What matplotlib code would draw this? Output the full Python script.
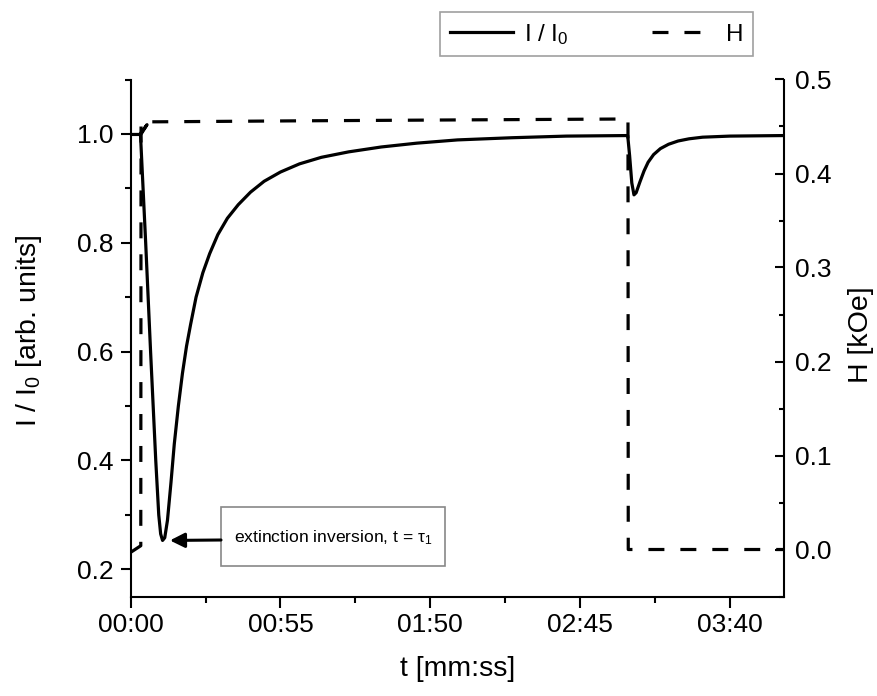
import matplotlib
matplotlib.use('Agg')
import matplotlib.pyplot as plt
from matplotlib.ticker import FuncFormatter, MultipleLocator
from matplotlib.patches import Rectangle

plt.rcParams['font.family'] = ['Liberation Sans', 'DejaVu Sans']
plt.rcParams['mathtext.fontset'] = 'custom'
plt.rcParams['mathtext.rm'] = 'Liberation Sans'
plt.rcParams['mathtext.it'] = 'Liberation Sans:italic'
plt.rcParams['mathtext.bf'] = 'Liberation Sans:bold'

# ---- data (time in seconds) ----
t_I = [0, 3.3, 6.0, 3.6, 5.5, 7.3, 9.2, 10.3, 11.0, 11.7, 12.5, 13.5, 14.8,
       16.0, 17.5, 19.0, 20.5, 22, 24, 26.5, 29, 32, 35.5, 39.5, 44, 49, 55,
       62, 70, 80, 92, 105, 120, 140, 160, 182.5, 183.2, 184.0, 184.8,
       185.6, 187, 188.5, 190, 192, 194.5, 197.5, 201, 205, 210, 220, 240]
I_vals = [0.999, 0.999, 1.017, 0.998, 0.80, 0.60, 0.40, 0.30, 0.265, 0.253,
          0.258, 0.29, 0.36, 0.43, 0.50, 0.56, 0.61, 0.65, 0.70, 0.745,
          0.78, 0.815, 0.845, 0.87, 0.893, 0.913, 0.93, 0.945, 0.957, 0.967,
          0.976, 0.983, 0.989, 0.993, 0.996, 0.997, 0.96, 0.91, 0.888, 0.892,
          0.912, 0.932, 0.948, 0.962, 0.973, 0.981, 0.987, 0.991, 0.994,
          0.996, 0.997]

t_H = [0, 3.7, 3.8, 10, 60, 120, 182.6, 182.7, 240]
H_vals = [-0.003, 0.004, 0.455, 0.455, 0.456, 0.457, 0.458, 0.0, 0.0]

x_major = [0, 55, 110, 165, 220]
left_ylim = (0.15, 1.1)
right_ylim = (-0.05, 0.5)
x_lim = (0, 240)

annot_text = "extinction inversion, t = \u03c4$_\\mathregular{1}$"
annot_point = (14.4, 0.253)


def mmss(v, pos=None):
    v = int(round(v))
    return f"{v // 60:02d}:{v % 60:02d}"


fig = plt.figure(figsize=(8.77, 6.96), dpi=100)
W, Hh = 877, 696
L, R, T, B = 130.7, 784.3, 79.5, 596.5
ax = fig.add_axes([L / W, 1 - B / Hh, (R - L) / W, (B - T) / Hh])
ax2 = ax.twinx()

l1, = ax.plot(t_I, I_vals, color='black', lw=2.3, solid_joinstyle='round',
              label='I / I$_\\mathregular{0}$')
l2, = ax2.plot(t_H, H_vals, color='black', lw=2.3, dashes=(5, 5),
               label='H')

ax.set_xlim(*x_lim)
ax.set_ylim(*left_ylim)
ax2.set_ylim(*right_ylim)

ax.set_xticks(x_major)
ax.xaxis.set_major_formatter(FuncFormatter(mmss))
ax.xaxis.set_minor_locator(MultipleLocator(27.5))
ax.yaxis.set_major_locator(MultipleLocator(0.2))
ax.yaxis.set_minor_locator(MultipleLocator(0.1))
ax.yaxis.set_major_formatter(FuncFormatter(lambda v, p: f"{v:.1f}"))
ax2.yaxis.set_major_locator(MultipleLocator(0.1))
ax2.yaxis.set_minor_locator(MultipleLocator(0.05))
ax2.yaxis.set_major_formatter(FuncFormatter(lambda v, p: f"{v:.1f}"))

for a in (ax, ax2):
    a.spines['top'].set_visible(False)
    for s in a.spines.values():
        s.set_linewidth(1.5)
ax.spines['right'].set_visible(False)
ax2.spines['left'].set_visible(False)
ax2.spines['bottom'].set_visible(False)

fs = 19
lfs = 20.5
ax.tick_params(axis='x', which='major', direction='out', length=8, width=1.5,
               labelsize=fs, pad=4)
ax.tick_params(axis='x', which='minor', direction='out', length=4.5, width=1.5)
ax.tick_params(axis='y', which='major', direction='out', length=7.5, width=1.5,
               labelsize=fs, pad=5)
ax.tick_params(axis='y', which='minor', direction='out', length=4.5, width=1.5)
ax2.tick_params(axis='y', which='major', direction='in', length=6.5, width=1.5,
                labelsize=fs, pad=8)
ax2.tick_params(axis='y', which='minor', direction='in', length=3.5, width=1.5)

ax.set_xlabel('t [mm:ss]', fontsize=lfs)
ax.set_ylabel('I / I$_\\mathregular{0}$ [arb. units]', fontsize=lfs)
ax2.set_ylabel('H [kOe]', fontsize=lfs)
ax.xaxis.set_label_coords(0.5, -0.115)
ax.yaxis.set_label_coords(-0.133, 0.514)
ax2.yaxis.set_label_coords(1.097, 0.506)

# annotation box (layout in axes fraction)
bx0, bx1 = (221 - L) / (R - L), (445 - L) / (R - L)
by0, by1 = (B - 566) / (B - T), (B - 507) / (B - T)
ax.add_patch(Rectangle((bx0, by0), bx1 - bx0, by1 - by0, transform=ax.transAxes,
                       fc='white', ec='#888888', lw=1.2, zorder=5))
ax.text((234 - L) / (R - L), (B - 538) / (B - T), annot_text, transform=ax.transAxes,
        fontsize=12.6, ha='left', va='center', zorder=6)
ax.annotate('', xy=annot_point, xycoords='data',
            xytext=(bx0, (B - 540) / (B - T)), textcoords='axes fraction',
            arrowprops=dict(arrowstyle='-|>', color='black', lw=2.2,
                            mutation_scale=22, shrinkA=0, shrinkB=0), zorder=6)

leg = fig.legend(handles=[l1, l2], loc='upper right',
                 bbox_to_anchor=(753 / W, 1 - 12 / Hh), bbox_transform=fig.transFigure,
                 ncol=2, fontsize=17.5, frameon=True, fancybox=False,
                 handlelength=2.6, handletextpad=0.45, columnspacing=3.4,
                 borderpad=0.4, borderaxespad=0)
leg.get_frame().set_edgecolor('#888888')
leg.get_frame().set_linewidth(1.2)

fig.savefig('out.png', dpi=100)
